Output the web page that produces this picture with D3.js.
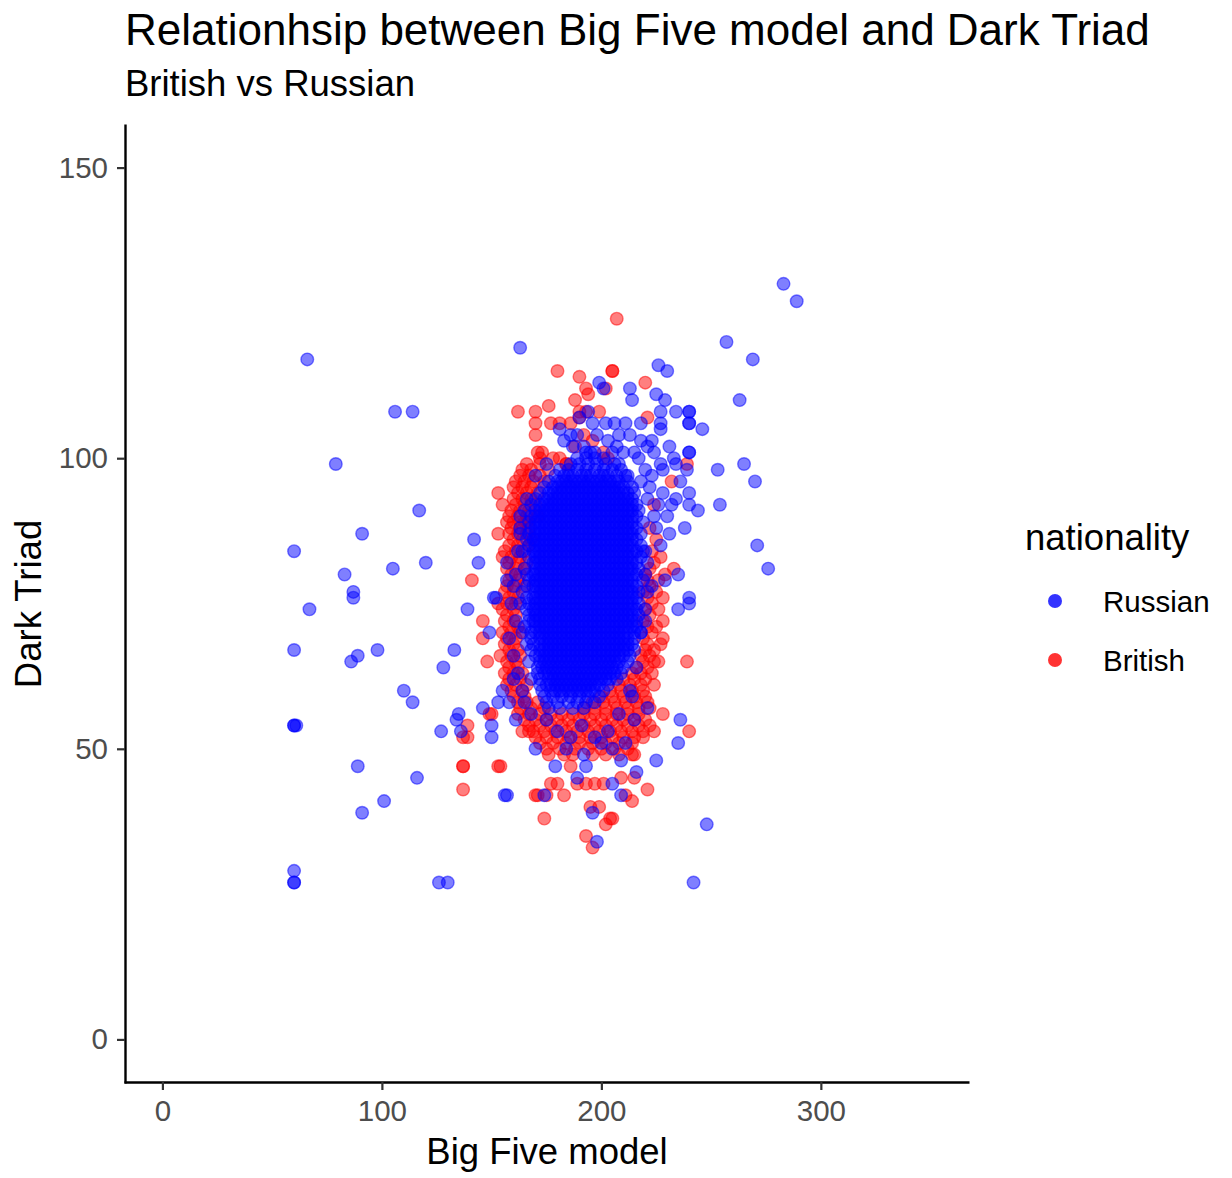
<!DOCTYPE html>
<html lang="en">
<head>
<meta charset="utf-8">
<title>Big Five model and Dark Triad</title>
<script src="https://cdn.jsdelivr.net/npm/d3@7"></script>
<style>
  body { margin: 0; background: #fff; }
  text { font-family: "Liberation Sans", Arial, Helvetica, sans-serif; }
</style>
</head>
<body>
<script>

// tick labels
var xTicks = [0, 100, 200, 300];
var yTicks = [0, 50, 100, 150];

var seriesNames = ["Russian", "British"];
var seriesColors = ["#0000ff", "#ff0000"];

// scattered Russian respondents [Big Five, Dark Triad]
var russianScattered = [
  [66,117],[106,108],[114,108],[79,99],[117,91],[91,87],[60,84],[83,80],[105,81],[120,82],
  [87,77],[87,76],[67,74],[60,67],[86,65],[89,66],[98,67],[110,60],[114,58],
  [60,54],[60,54],[61,54],[89,47],[91,39],[101,41],[116,45],[60,29],[60,27],[60,27],
  [126,27],[130,27],[128,64],[133,67],[135,56],[134,55],[136,53],[127,53],[150,52],[156,42],
  [142,86],[144,82],[139,74],[149,70],[152,76],[151,76],[157,79],[157,82],[155,60],[153,58],
  [158,58],[146,57],[150,54],[161,55],[160,66],[161,72],[162,84],[163,90],[166,93],[162,63],
  [164,60],[158,69],[160,78],[163,87],[161,80],[159,75],[164,70],[160,62],[165,58],
  [163,119],[283,130],[289,127],[257,120],[269,117],[263,110],
  [226,116],[230,115],[213,112],[214,110],[225,111],[229,110],[199,113],[201,112],
  [227,108],[234,108],[240,108],[240,108],[194,108],[218,106],[227,106],[227,105],[240,106],
  [240,106],[246,105],[202,106],[206,106],[181,105],[186,104],[189,104],[213,104],[183,103],
  [187,102],[218,103],[223,103],[221,102],[224,101],[231,102],[240,101],[240,101],
  [190,107],[196,106],[198,104],[203,103],[207,102],[210,101],[192,102],[195,101],[205,101],
  [208,104],[211,106],[215,101],[217,100],[170,97],[175,99],[208,99],[212,97],
  [233,100],[234,99],[239,98],[227,99],[228,98],[220,98],[223,97],[253,98],[265,99],[270,96],
  [236,96],[228,94],[234,93],[240,94],[240,92],[244,91],[254,92],[221,93],[230,90],[224,90],
  [238,88],[222,95],[226,92],[218,96],[225,88],[231,87],[232,92],
  [271,85],[276,81],[227,85],[235,80],[229,79],[240,76],[235,74],[240,75],[221,82],[223,78],
  [219,84],[221,77],[218,70],[216,64],[213,60],
  [220,72],[236,55],[235,51],[225,48],[214,59],[221,57],[215,55],[205,50],[209,48],[209,42],
  [248,37],[242,27],[198,34],[196,39],[193,47],[179,47],[174,42],[157,42],
  [175,55],[180,53],[186,52],[191,54],[197,52],[203,53],[184,50],[192,49],[200,51],[211,51],
  [170,50],[216,46],[189,45],[205,44],[168,56],[208,56]
];

// dense Russian block: [Dark Triad, [Big Five ...]]
var russianRows = [
  [101, [193, 197]],
  [100, [189, 193, 197, 201]],
  [99, [186, 190, 194, 198, 202, 206]],
  [98, [181, 185, 189, 193, 197, 201, 205, 209]],
  [97, [179, 183, 187, 191, 195, 199, 203, 207, 211]],
  [96, [176, 180, 184, 188, 192, 196, 200, 204, 208, 212]],
  [95, [174, 178, 182, 186, 190, 194, 198, 202, 206, 210, 214]],
  [94, [172, 176, 180, 184, 188, 192, 196, 200, 204, 208, 212, 215]],
  [93, [170, 174, 178, 182, 186, 190, 194, 198, 202, 206, 210, 214]],
  [92, [168, 172, 176, 180, 184, 188, 192, 196, 200, 204, 208, 212, 216]],
  [91, [165, 170, 174, 178, 182, 186, 190, 194, 198, 202, 206, 210, 214, 217]],
  [90, [168, 172, 176, 180, 184, 188, 192, 196, 200, 204, 208, 212, 216]],
  [89, [167, 170, 174, 178, 182, 186, 190, 194, 198, 202, 206, 210, 214, 219]],
  [88, [163, 168, 172, 176, 180, 184, 188, 192, 196, 200, 204, 208, 212, 216]],
  [87, [167, 170, 174, 178, 182, 186, 190, 194, 198, 202, 206, 210, 214, 218]],
  [86, [166, 169, 172, 176, 180, 184, 188, 192, 196, 200, 204, 208, 212, 216]],
  [85, [167, 170, 174, 178, 182, 186, 190, 194, 198, 202, 206, 210, 214, 218]],
  [84, [164, 169, 172, 176, 180, 184, 188, 192, 196, 200, 204, 208, 212, 216, 220]],
  [83, [167, 170, 174, 178, 182, 186, 190, 194, 198, 202, 206, 210, 214, 218]],
  [82, [169, 172, 176, 180, 184, 188, 192, 196, 200, 204, 208, 212, 216]],
  [81, [165, 170, 174, 178, 182, 186, 190, 194, 198, 202, 206, 210, 214, 217]],
  [80, [166, 169, 172, 176, 180, 184, 188, 192, 196, 200, 204, 208, 212, 216, 220]],
  [79, [167, 170, 174, 178, 182, 186, 190, 194, 198, 202, 206, 210, 214, 219]],
  [78, [166, 169, 172, 176, 180, 184, 188, 192, 196, 200, 204, 208, 212, 216]],
  [77, [164, 170, 174, 178, 182, 186, 190, 194, 198, 202, 206, 210, 214, 217]],
  [76, [166, 169, 172, 176, 180, 184, 188, 192, 196, 200, 204, 208, 212, 216]],
  [75, [163, 167, 170, 174, 178, 182, 186, 190, 194, 198, 202, 206, 210, 214, 217]],
  [74, [166, 169, 172, 176, 180, 184, 188, 192, 196, 200, 204, 208, 212, 216, 220]],
  [73, [167, 170, 174, 178, 182, 186, 190, 194, 198, 202, 206, 210, 214, 217]],
  [72, [167, 169, 172, 176, 180, 184, 188, 192, 196, 200, 204, 208, 212, 216]],
  [71, [165, 170, 174, 178, 182, 186, 190, 194, 198, 202, 206, 210, 214, 216]],
  [70, [168, 172, 176, 180, 184, 188, 192, 196, 200, 204, 208, 212, 215, 218]],
  [69, [168, 172, 176, 180, 184, 188, 192, 196, 200, 204, 208, 212, 215]],
  [68, [166, 169, 174, 178, 182, 186, 190, 194, 198, 202, 206, 210, 214]],
  [67, [168, 172, 176, 180, 184, 188, 192, 196, 200, 204, 208, 212, 215]],
  [66, [170, 174, 178, 182, 186, 190, 194, 198, 202, 206, 210, 213]],
  [65, [167, 172, 176, 180, 184, 188, 192, 196, 200, 204, 208, 212]],
  [64, [171, 175, 179, 183, 187, 191, 195, 199, 203, 207, 210]],
  [63, [171, 174, 178, 182, 186, 190, 194, 198, 202, 206, 209]],
  [62, [168, 172, 176, 180, 184, 188, 192, 196, 200, 204, 207]],
  [61, [172, 175, 179, 183, 187, 191, 195, 199, 203]],
  [60, [173, 177, 181, 185, 189, 193, 197, 201]],
  [59, [174, 178, 182, 186, 190, 194, 199]],
  [58, [175, 180, 185, 189, 193, 197]],
  [57, [176, 181, 187, 192]]
];

// more Russian respondents inside the dense block
var russianCoreRows = [
  [97, [185, 193, 201]],
  [96, [182, 186, 190, 194, 198, 202, 206]],
  [95, [180, 184, 188, 192, 196, 200, 204, 208]],
  [94, [178, 182, 186, 190, 194, 198, 202, 206, 210]],
  [93, [176, 180, 184, 188, 192, 196, 200, 204, 208, 212]],
  [92, [174, 178, 182, 186, 190, 194, 198, 202, 206, 210, 214]],
  [91, [172, 176, 180, 184, 188, 192, 196, 200, 204, 208, 212]],
  [90, [170, 174, 178, 182, 186, 190, 194, 198, 202, 206, 210, 214]],
  [89, [172, 176, 180, 184, 188, 192, 196, 200, 204, 208, 212]],
  [88, [170, 174, 178, 182, 186, 190, 194, 198, 202, 206, 210, 214]],
  [87, [172, 176, 180, 184, 188, 192, 196, 200, 204, 208, 212]],
  [86, [170, 174, 178, 182, 186, 190, 194, 198, 202, 206, 210, 214]],
  [85, [172, 176, 180, 184, 188, 192, 196, 200, 204, 208, 212]],
  [84, [170, 174, 178, 182, 186, 190, 194, 198, 202, 206, 210, 214]],
  [83, [172, 176, 180, 184, 188, 192, 196, 200, 204, 208, 212]],
  [82, [170, 174, 178, 182, 186, 190, 194, 198, 202, 206, 210, 214]],
  [81, [172, 176, 180, 184, 188, 192, 196, 200, 204, 208, 212]],
  [80, [170, 174, 178, 182, 186, 190, 194, 198, 202, 206, 210, 214]],
  [79, [172, 176, 180, 184, 188, 192, 196, 200, 204, 208, 212]],
  [78, [170, 174, 178, 182, 186, 190, 194, 198, 202, 206, 210, 214]],
  [77, [172, 176, 180, 184, 188, 192, 196, 200, 204, 208, 212]],
  [76, [170, 174, 178, 182, 186, 190, 194, 198, 202, 206, 210, 214]],
  [75, [172, 176, 180, 184, 188, 192, 196, 200, 204, 208, 212]],
  [74, [170, 174, 178, 182, 186, 190, 194, 198, 202, 206, 210, 214]],
  [73, [172, 176, 180, 184, 188, 192, 196, 200, 204, 208, 212]],
  [72, [170, 174, 178, 182, 186, 190, 194, 198, 202, 206, 210, 214]],
  [71, [172, 176, 180, 184, 188, 192, 196, 200, 204, 208, 212]],
  [70, [170, 174, 178, 182, 186, 190, 194, 198, 202, 206, 210]],
  [69, [174, 178, 182, 186, 190, 194, 198, 202, 206, 210]],
  [68, [172, 176, 180, 184, 188, 192, 196, 200, 204, 208, 212]],
  [67, [174, 178, 182, 186, 190, 194, 198, 202, 206, 210]],
  [66, [172, 176, 180, 184, 188, 192, 196, 200, 204, 208]],
  [65, [174, 178, 182, 186, 190, 194, 198, 202, 206]],
  [64, [173, 177, 181, 185, 189, 193, 197, 201, 205]],
  [63, [176, 180, 184, 188, 192, 196, 200, 204]],
  [62, [178, 182, 186, 190, 194, 198, 202]],
  [61, [177, 181, 185, 189, 193, 197]],
  [60, [179, 183, 187, 191, 195]]
];

// scattered British respondents [Big Five, Dark Triad]
var britishScattered = [
  [207,124],[205,115],[205,115],[180,115],[190,114],[220,113],[202,112],[193,112],[194,111],
  [176,109],[162,108],[170,108],[170,106],[170,104],[177,106],[181,106],[221,107],[193,108],
  [190,107],[188,110],[190,108],[186,106],[192,104],[188,102],[196,103],[199,108],
  [171,101],[173,101],[172,100],[178,100],[181,100],[184,99],[201,101],[203,100],
  [153,94],[155,92],[157,89],[160,89],[165,89],[153,87],[225,86],[232,96],[239,99],
  [227,83],[233,81],[229,80],[228,76],[228,72],[228,69],[227,68],[224,65],[226,65],[239,65],
  [224,61],[228,56],[240,53],[224,53],[219,52],[215,49],
  [209,45],[215,45],[221,43],[214,41],[211,42],[205,38],[202,37],[196,33],[193,35],[195,40],
  [199,40],[204,38],[176,49],[187,49],[196,49],[202,49],[214,49],[186,47],[189,44],[193,44],
  [197,44],[201,44],[177,44],[180,44],[170,42],[175,42],[183,42],[174,38],[171,42],
  [137,52],[137,47],[137,47],[137,43],[153,47],[154,47],[139,54],[139,52],[148,65],[146,72],
  [146,69],[141,79],[162,56],[167,53],[164,53],[150,56],[149,56]
];

// dense British block: [Dark Triad, [Big Five ...]]
var britishRows = [
  [99, [166, 172, 184]],
  [98, [164, 168, 176]],
  [97, [163, 167, 172]],
  [96, [161, 165, 169, 174]],
  [95, [160, 164, 168]],
  [94, [162, 166, 171]],
  [93, [160, 164, 168]],
  [92, [161, 165, 170, 224]],
  [91, [159, 163, 167]],
  [90, [158, 162, 166, 171]],
  [89, [163, 166]],
  [88, [159, 163, 167, 222]],
  [87, [158, 162, 166]],
  [86, [160, 164, 168]],
  [85, [158, 162, 167]],
  [84, [156, 161, 165, 223]],
  [83, [155, 159, 163]],
  [82, [158, 162, 166, 224]],
  [81, [157, 161, 165, 222]],
  [80, [159, 163, 220]],
  [79, [158, 162, 221, 226]],
  [78, [157, 161, 165, 222]],
  [77, [156, 160, 219, 225]],
  [76, [158, 162, 221]],
  [75, [153, 157, 161, 223]],
  [74, [155, 160, 220, 226]],
  [73, [157, 161, 222]],
  [72, [156, 160, 219]],
  [71, [158, 162, 221, 225]],
  [70, [155, 159, 163, 223]],
  [69, [157, 161, 219]],
  [68, [156, 160, 221]],
  [67, [158, 162, 220, 224]],
  [66, [154, 159, 163, 218, 222]],
  [65, [157, 161, 219]],
  [64, [158, 162, 216, 221]],
  [63, [156, 160, 164, 214, 218, 223]],
  [62, [158, 163, 210, 215, 220]],
  [61, [157, 161, 166, 208, 213, 218]],
  [60, [159, 164, 204, 209, 214, 219]],
  [59, [160, 165, 200, 205, 210, 215, 220]],
  [58, [162, 166, 171, 196, 201, 206, 211, 216, 221]],
  [57, [163, 168, 174, 192, 197, 202, 207, 212, 217, 222]],
  [56, [167, 172, 177, 182, 187, 192, 197, 202, 207, 212, 217]],
  [55, [165, 170, 175, 180, 185, 190, 195, 200, 205, 210, 215, 220]],
  [54, [167, 172, 177, 182, 187, 192, 197, 202, 207, 212, 217, 222]],
  [53, [169, 174, 179, 184, 189, 194, 199, 204, 209, 214, 219]],
  [52, [170, 175, 180, 185, 190, 195, 200, 205, 210, 215]],
  [51, [172, 178, 184, 190, 196, 202, 208, 214]],
  [50, [175, 181, 188, 194, 200, 206, 212]],
  [49, [183, 208]]
];

function rowsToPoints(rows) {
  var pts = [];
  rows.forEach(function(r) {
    r[1].forEach(function(v) { pts.push([v, r[0]]); });
  });
  return pts;
}

var russian = russianScattered
  .concat(rowsToPoints(russianRows))
  .concat(rowsToPoints(russianCoreRows));
var british = britishScattered.concat(rowsToPoints(britishRows));

var w = 1232;
var h = 1178;

var svg = d3.select("body").append("svg")
  .attr("width", w)
  .attr("height", h)
  .style("background", "#fff");

var xScale = d3.scaleLinear().domain([-17.5, 367.5]).range([124, 969]);
var yScale = d3.scaleLinear().domain([-7.5, 157.5]).range([1083, 124]);

// points, British first so Russian sits on top
function drawPoints(data, color) {
  svg.append("g").selectAll("circle")
    .data(data)
    .enter()
    .append("circle")
    .attr("cx", function(d) { return xScale(d[0]); })
    .attr("cy", function(d) { return yScale(d[1]); })
    .attr("r", 6.3)
    .attr("fill", color)
    .attr("fill-opacity", 0.5)
    .attr("stroke", color)
    .attr("stroke-opacity", 0.5)
    .attr("stroke-width", 1.4);
}
drawPoints(british, seriesColors[1]);
drawPoints(russian, seriesColors[0]);

// axes
var xAxis = svg.append("g")
  .attr("transform", "translate(0,1082)")
  .call(d3.axisBottom(xScale).tickValues(xTicks).tickSize(8).tickSizeOuter(0).tickPadding(10));
var yAxis = svg.append("g")
  .attr("transform", "translate(125,0)")
  .call(d3.axisLeft(yScale).tickValues(yTicks).tickSize(8).tickSizeOuter(0).tickPadding(9));

[xAxis, yAxis].forEach(function(a) {
  a.select(".domain").attr("stroke", "#000").attr("stroke-width", 2.4);
  a.selectAll(".tick line").attr("stroke", "#333").attr("stroke-width", 2.2);
  a.selectAll(".tick text")
    .attr("fill", "#4d4d4d")
    .style("font-size", "29.5px")
    .style("font-family", "'Liberation Sans', Arial, sans-serif");
});

// titles
svg.append("text")
  .attr("x", 125).attr("y", 45)
  .style("font-size", "44px")
  .text("Relationhsip between Big Five model and Dark Triad");

svg.append("text")
  .attr("x", 125).attr("y", 96)
  .style("font-size", "36.5px")
  .text("British vs Russian");

svg.append("text")
  .attr("x", 547).attr("y", 1164)
  .attr("text-anchor", "middle")
  .style("font-size", "36.5px")
  .text("Big Five model");

svg.append("text")
  .attr("transform", "translate(41,604) rotate(-90)")
  .attr("text-anchor", "middle")
  .style("font-size", "36.5px")
  .text("Dark Triad");

// legend
svg.append("text")
  .attr("x", 1025).attr("y", 550)
  .style("font-size", "36.5px")
  .text("nationality");

var legend = svg.append("g").selectAll("g")
  .data(seriesNames)
  .enter()
  .append("g")
  .attr("transform", function(d, i) { return "translate(0," + (601 + i * 59) + ")"; });

legend.append("circle")
  .attr("cx", 1055)
  .attr("r", 7)
  .attr("fill", function(d, i) { return seriesColors[i]; })
  .attr("fill-opacity", 0.8);

legend.append("text")
  .attr("x", 1103)
  .attr("y", 11)
  .style("font-size", "29.5px")
  .text(function(d) { return d; });

</script>
</body>
</html>
